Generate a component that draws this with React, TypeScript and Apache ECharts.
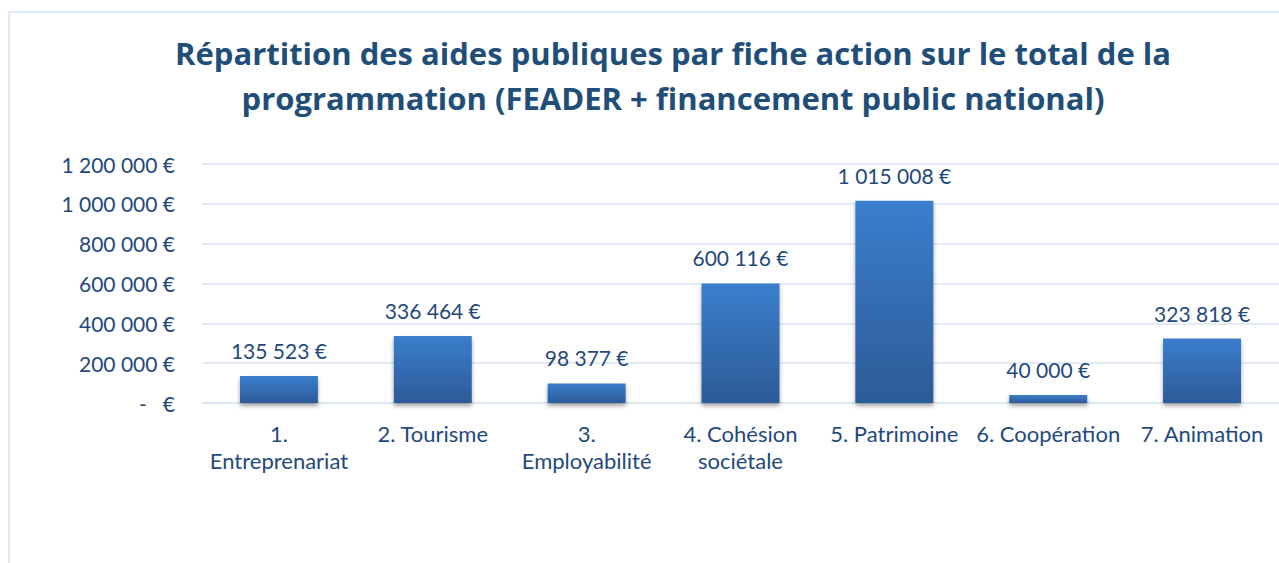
import React, { useEffect, useRef } from "react";
import * as echarts from "echarts";

const categories = [
  "1.\nEntreprenariat",
  "2. Tourisme",
  "3.\nEmployabilité",
  "4. Cohésion\nsociétale",
  "5. Patrimoine",
  "6. Coopération",
  "7. Animation",
];
const values = [135523, 336464, 98377, 600116, 1015008, 40000, 323818];
const yTicks = { min: 0, max: 1200000, interval: 200000 };
const titleLines = [
  "Répartition des aides publiques par fiche action sur le total de la",
  "programmation (FEADER + financement public national)",
];

const fmt = (v: number) => {
  if (v === 0) return "-   €";
  return String(Math.round(v)).replace(/\B(?=(\d{3})+(?!\d))/g, " ") + " €";
};

const FONT = "Lato";
const TEXT = "#1f497d";

export default function App() {
  const ref = useRef<HTMLDivElement>(null);
  useEffect(() => {
    if (!ref.current) return;
    const chart = echarts.init(ref.current, undefined, { renderer: "svg" });
    chart.setOption({
      animation: false,
      backgroundColor: "#ffffff",
      title: {
        text: titleLines.join("\n"),
        left: 668,
        textAlign: "center",
        top: 25,
        textStyle: {
          fontFamily: "Open Sans",
          fontWeight: "bold",
          fontSize: 31,
          lineHeight: 45,
          color: "#1f4e79",
        },
      },
      graphic: [
        {
          type: "rect",
          shape: { x: 9, y: 12, width: 1400, height: 700 },
          style: { fill: "none", stroke: "#d6e3f3", lineWidth: 1.5 },
          silent: true,
        },
      ],
      grid: { left: 202, top: 164, bottom: 160, width: 1084, containLabel: false },
      xAxis: {
        type: "category",
        data: categories,
        axisLine: { show: true, lineStyle: { color: "#d9e4f1", width: 1.5 } },
        axisTick: { show: false },
        axisLabel: {
          fontFamily: FONT,
          fontSize: 22,
          color: TEXT,
          margin: 17,
          lineHeight: 27,
          interval: 0,
        },
      },
      yAxis: {
        type: "value",
        min: yTicks.min,
        max: yTicks.max,
        interval: yTicks.interval,
        axisLine: { show: false },
        axisTick: { show: false },
        splitLine: { lineStyle: { color: "#d9e4f1", width: 1.5 } },
        axisLabel: {
          fontFamily: FONT,
          fontSize: 21,
          color: TEXT,
          margin: 27,
          formatter: (v: number) => fmt(v),
        },
      },
      series: [
        {
          type: "bar",
          data: values,
          barWidth: 78,
          itemStyle: {
            color: new echarts.graphic.LinearGradient(0, 0, 0, 1, [
              { offset: 0, color: "#3b7ecd" },
              { offset: 1, color: "#2c5b97" },
            ]),
            shadowColor: "rgba(0,0,0,0.35)",
            shadowBlur: 4,
            shadowOffsetY: 3,
          },
          label: {
            show: true,
            position: "top",
            distance: 15,
            fontFamily: FONT,
            fontSize: 21,
            color: TEXT,
            formatter: (p: any) => fmt(p.value),
          },
        },
      ],
    });
    return () => chart.dispose();
  }, []);
  return (
    <div
      ref={ref}
      style={{ position: "absolute", left: 0, top: 0, width: 1279, height: 563 }}
    />
  );
}
